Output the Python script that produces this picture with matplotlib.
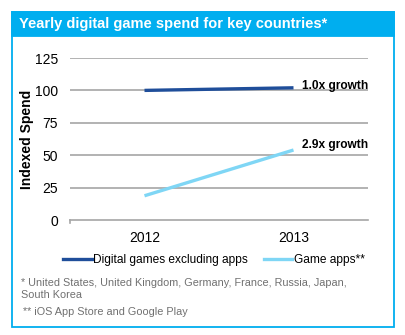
import matplotlib.pyplot as plt
from matplotlib.patches import Rectangle
from matplotlib.lines import Line2D

plt.rcParams['font.family'] = ['Liberation Sans', 'DejaVu Sans']

years = ['2012', '2013']
digital = [100, 102]
apps = [18.7, 54]
growth = ['1.0x growth', '2.9x growth']
yticks = [0, 25, 50, 75, 100, 125]

dark = '#1F4E9A'
light = '#7FD6F5'
cyan = '#00AEEF'
W, H = 406, 335

fig = plt.figure(figsize=(W / 100, H / 100), dpi=100)

def fx(px):
    return px / W

def fy(py):
    return 1 - py / H

# frame and title band
fig.patches.append(Rectangle((fx(12), fy(327)), fx(382), 315 / H, transform=fig.transFigure,
                             fill=False, edgecolor=cyan, linewidth=1.3))
fig.patches.append(Rectangle((fx(12), fy(36)), fx(382), 24 / H, transform=fig.transFigure,
                             facecolor=cyan, edgecolor=cyan, linewidth=1.3))
fig.text(fx(19), fy(24), 'Yearly digital game spend for key countries*', color='white',
         fontsize=10.5, fontweight='bold', va='center', ha='left')

ax = fig.add_axes([fx(70), fy(220), fx(298), 162 / H])
x = [0, 1]
ax.plot(x, digital, color=dark, linewidth=2.4, solid_capstyle='butt', zorder=3)
ax.plot(x, apps, color=light, linewidth=2.4, solid_capstyle='butt', zorder=3)
ax.set_xlim(-0.5, 1.5)
ax.set_ylim(0, 125)
ax.set_yticks(yticks)
ax.set_xticks(x)
ax.set_xticklabels(years, fontsize=10)
ax.tick_params(axis='y', length=0, pad=8.5, labelsize=10)
ax.tick_params(axis='x', length=0, pad=8)
for t in yticks[1:]:
    ax.axhline(t, color='#A6A6A6', linewidth=1.2, zorder=1)
for s in ['top', 'right', 'left']:
    ax.spines[s].set_visible(False)
ax.spines['bottom'].set_color('#A6A6A6')
ax.spines['bottom'].set_linewidth(1.2)
ax.plot([-0.5, -0.5], [0, -2.5], color='#A6A6A6', linewidth=1.2, clip_on=False)
ax.set_ylabel('Indexed Spend', fontsize=10, fontweight='bold')
ax.yaxis.set_label_coords(-(70 - 34) / 298, 0.5)

ax.text(1.06, digital[1] + 1.5, growth[0], fontsize=8.6, fontweight='bold', va='center', ha='left')
ax.text(1.06, apps[1] + 4, growth[1], fontsize=8.6, fontweight='bold', va='center', ha='left')

handles = [Line2D([], [], color=dark, linewidth=2.4), Line2D([], [], color=light, linewidth=2.4)]
fig.legend(handles, ['Digital games excluding apps', 'Game apps**'], ncol=2, frameon=False,
           loc='center', bbox_to_anchor=(fx(214), fy(260)), fontsize=8.6,
           handlelength=2.4, handletextpad=0.15, columnspacing=1.3)

fig.text(fx(21), fy(289), '* United States, United Kingdom, Germany, France, Russia, Japan,\nSouth Korea',
         color='#707070', fontsize=7.8, va='center', ha='left', linespacing=1.3)
fig.text(fx(23), fy(312), '** iOS App Store and Google Play', color='#707070', fontsize=7.8,
         va='center', ha='left')

fig.savefig('out.png', dpi=100, facecolor='white')
